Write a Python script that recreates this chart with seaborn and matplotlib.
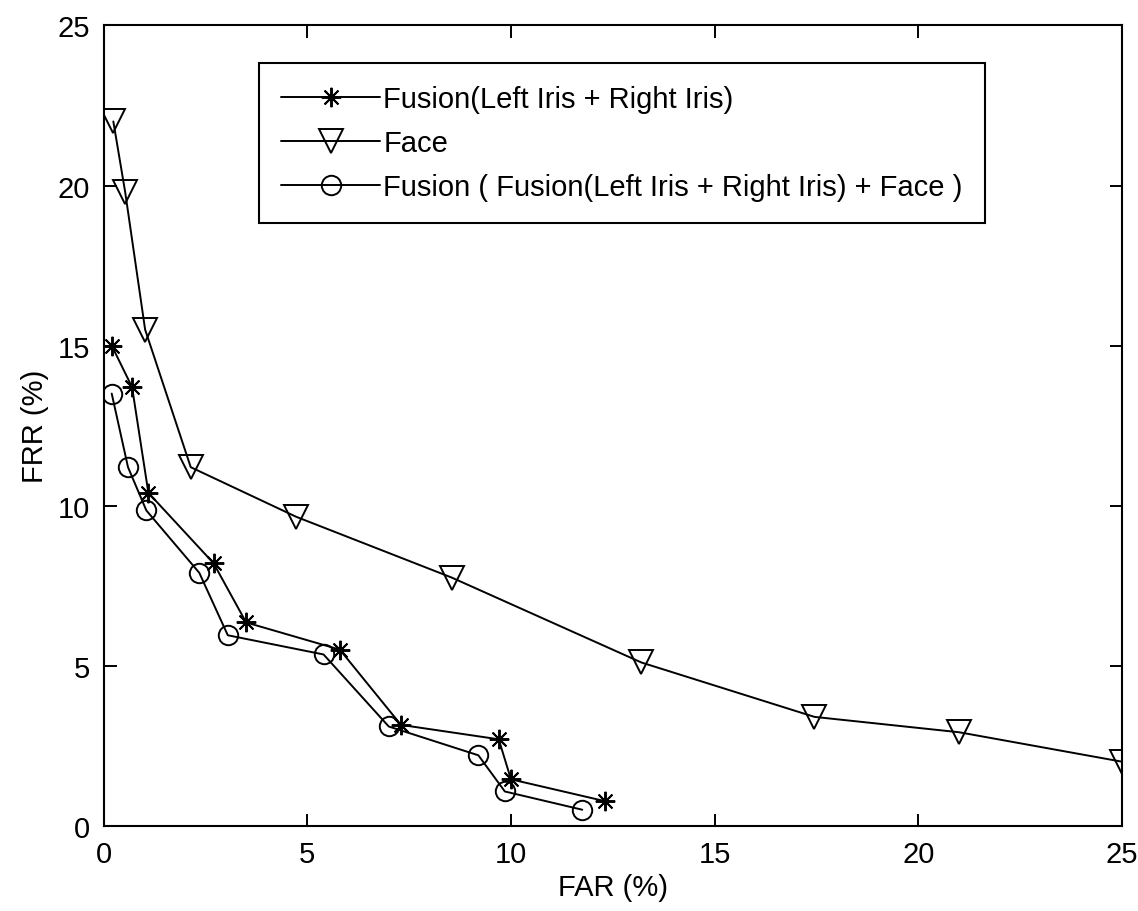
import numpy as np
import matplotlib
matplotlib.use("Agg")
import matplotlib.pyplot as plt
from matplotlib import font_manager
import seaborn as sns

# FAR / FRR points
iris_far = [0.2, 0.7, 1.1, 2.7, 3.5, 5.8, 7.3, 9.7, 10.0, 12.3]
iris_frr = [15.0, 13.7, 10.4, 8.2, 6.35, 5.5, 3.15, 2.7, 1.45, 0.77]

face_far = [0.24, 0.53, 1.02, 2.14, 4.73, 8.55, 13.2, 17.45, 21.0, 25.0]
face_frr = [22.0, 19.8, 15.5, 11.2, 9.65, 7.75, 5.1, 3.4, 2.92, 2.0]

fused_far = [0.2, 0.6, 1.05, 2.35, 3.05, 5.4, 7.0, 9.2, 9.85, 11.75]
fused_frr = [13.5, 11.2, 9.85, 7.9, 5.95, 5.35, 3.1, 2.2, 1.07, 0.5]

labels = ["Fusion(Left Iris + Right Iris)",
          "Face",
          "Fusion ( Fusion(Left Iris + Right Iris) + Face )"]

sns.set_style("ticks")
installed = {f.name for f in font_manager.fontManager.ttflist}
fam = [f for f in ["Liberation Sans Narrow", "Liberation Sans"] if f in installed]
plt.rcParams["font.family"] = fam + ["DejaVu Sans"]
plt.rcParams["text.color"] = "k"
plt.rcParams["axes.labelcolor"] = "k"
plt.rcParams["xtick.color"] = "k"
plt.rcParams["ytick.color"] = "k"

fig = plt.figure(figsize=(11.38, 9.12), dpi=100)
ax = fig.add_axes([0.091, 0.0935, 0.895, 0.8775])

common = dict(sort=False, color="k", linewidth=1.4, markeredgecolor="k",
              markeredgewidth=1.4, ax=ax)
sns.lineplot(x=iris_far, y=iris_frr, marker=(8, 2, 0), markersize=14,
             label=labels[0], **common)
sns.lineplot(x=face_far, y=face_frr, marker="v", markersize=17,
             markerfacecolor="none", label=labels[1], **common)
sns.lineplot(x=fused_far, y=fused_frr, marker="o", markersize=14,
             markerfacecolor="none", label=labels[2], **common)

ax.set_xlim(0, 25)
ax.set_ylim(0, 25)
ax.set_xticks(np.arange(0, 26, 5))
ax.set_yticks(np.arange(0, 26, 5))
ax.tick_params(direction="in", length=9, width=1.4, labelsize=21,
               top=True, right=True, pad=10)
for s in ax.spines.values():
    s.set_visible(True)
    s.set_linewidth(1.5)
    s.set_color("k")
ax.set_xlabel("FAR (%)", fontsize=21, labelpad=4)
ax.set_ylabel("FRR (%)", fontsize=21, labelpad=6)

leg = ax.legend(loc="upper left", bbox_to_anchor=(0.153, 0.953),
                fontsize=21, frameon=True, fancybox=False, framealpha=1,
                edgecolor="k", handlelength=3.4, handletextpad=0.1,
                borderpad=0.75, labelspacing=0.55, borderaxespad=0)
leg.get_frame().set_linewidth(1.5)

fig.savefig("out.png", dpi=100)
